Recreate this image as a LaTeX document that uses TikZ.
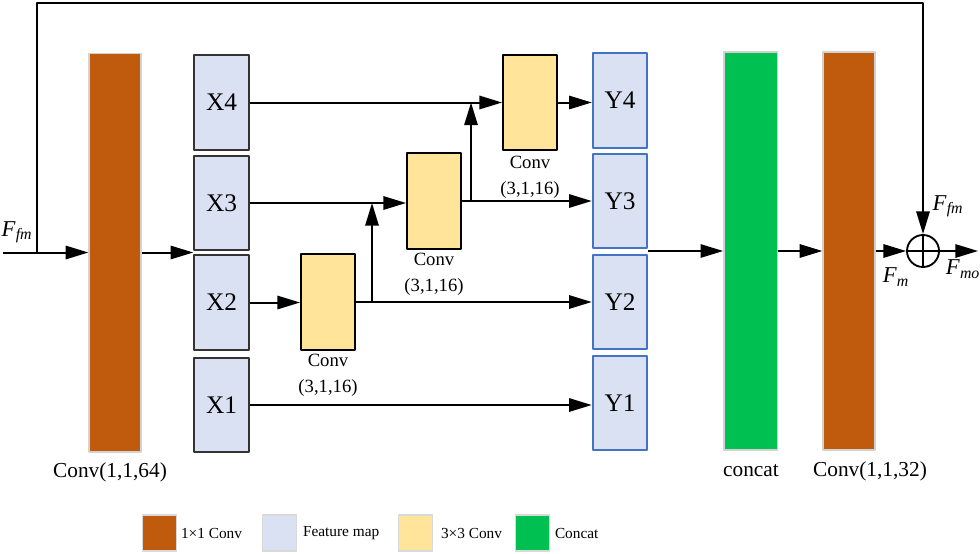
\documentclass[tikz,border=0pt]{standalone}
\usepackage{fontspec}
\setmainfont{Liberation Serif}
\usetikzlibrary{arrows.meta,positioning}
\definecolor{cbrown}{RGB}{192,90,12}
\definecolor{cblue}{RGB}{218,225,242}
\definecolor{cborder}{RGB}{68,114,196}
\definecolor{cyellow}{RGB}{255,228,153}
\definecolor{cgreen}{RGB}{0,192,82}
\tikzset{
  bar/.style={draw=gray!35, line width=1pt, minimum width=39pt, inner sep=0},
  fmap/.style={draw=black!80, fill=cblue, line width=1.4pt, minimum width=41pt, minimum height=71pt, inner sep=0, font=\fontsize{19}{21}\selectfont},
  ymap/.style={fmap, draw=cborder},
  cbox/.style={draw, fill=cyellow, line width=1.4pt, minimum width=40.5pt, minimum height=71.5pt, inner sep=0},
  clab/.style={align=center, inner sep=0, font=\fontsize{14}{19.5}\selectfont},
  blab/.style={inner sep=0, font=\fontsize{16}{18}\selectfont},
  flab/.style={inner sep=0, font=\fontsize{17}{19}\selectfont},
  key/.style={draw=gray!30, line width=0.8pt, minimum width=26pt, minimum height=27pt, inner sep=0},
  keytext/.style={anchor=west, inner sep=0, font=\fontsize{11.5}{13}\selectfont}
}
\begin{document}
\begin{tikzpicture}[x=0.75pt, y=-0.75pt, line join=round, line width=1.5pt, >={Triangle[length=17pt,width=10pt]}]
  \useasboundingbox (0,0) rectangle (980,553);
  % input block
  \node[bar, fill=cbrown, minimum height=299pt] (conv1) at (115,252.5) {};
  \foreach \n/\y in {4/102.5,3/203,2/302.5,1/405}
    \node[fmap] (X\n) at (221.5,\y) {X\n};
  \foreach \n/\y in {4/100.5,3/201,2/302,1/403}
    \node[ymap] (Y\n) at (620,\y) {Y\n};
  % 3x3 convs
  \node[cbox] (cva) at (328,302) {};
  \node[cbox] (cvb) at (434,201) {};
  \node[cbox] (cvc) at (530,102.5) {};
  \node[clab, below=2pt of cva] (cvalab) {Conv\\(3,1,16)};
  \node[clab, below=2pt of cvb] (cvblab) {Conv\\(3,1,16)};
  \node[clab, below=3pt of cvc] (cvclab) {Conv\\(3,1,16)};
  % output block
  \node[bar, fill=cgreen, minimum width=40pt, minimum height=298.5pt] (cat) at (750.5,251) {};
  \node[bar, fill=cbrown, minimum height=298.5pt] (conv2) at (849,251) {};
  \node[circle, draw, line width=1.4pt, minimum size=24pt, inner sep=0] (add) at (923,251) {};
  \draw[line width=1.4pt] (add.north) -- (add.south) (add.west) -- (add.east);
  \node[blab] (conv1lab) at (110,472) {Conv(1,1,64)};
  \node[blab] (catlab) at (751,471) {concat};
  \node[blab] (conv2lab) at (870,471) {Conv(1,1,32)};
  % connections
  \coordinate (in) at (3,252.5);
  \coordinate (split) at (37,252.5);
  \coordinate (top) at (923,3);
  \coordinate (out) at (978,251);
  \draw[->] (in) -- (conv1.west);
  \draw[->] (split) |- (top) -- (add.north);
  \draw[->] (conv1.east) -- (conv1.east -| X3.west);
  \draw[->] (X4.east) -- (X4.east -| cvc.west);
  \draw[->] (X3.east) -- (X3.east -| cvb.west);
  \draw[->] (X2.east) -- (X2.east -| cva.west);
  \draw[->] (X1.east) -- (X1.east -| Y1.west);
  \draw[->] (cva.east) -- (cva.east -| Y2.west);
  \draw[->] (cvb.east) -- (cvb.east -| Y3.west);
  \draw[->] (cvc.east) -- (cvc.east -| Y4.west);
  \coordinate (ja) at (372,302);
  \coordinate (jb) at (471,201);
  \draw[->] (ja) -- (ja |- X3.east);
  \draw[->] (jb) -- (jb |- X4.east);
  \draw[->] (cat.west -| Y3.east) -- (cat.west);
  \draw[->] (cat.east) -- (conv2.west);
  \draw[->] (conv2.east) -- (add.west);
  \draw[->] (add.east) -- (out);
  \node[flab] (ffm) at (17,232) {\textit{F}\textsubscript{\textit{fm}}};
  \node[flab] (ffm2) at (948,206) {\textit{F}\textsubscript{\textit{fm}}};
  \node[flab] (fm) at (896,277) {\textit{F}\textsubscript{\textit{m}}};
  \node[flab] (fmo) at (963,269) {\textit{F}\textsubscript{\textit{mo}}};
  % legend
  \node[key, fill=cbrown] (k1) at (159.5,533) {};
  \node[keytext] (t1) at (180,533) {1×1 Conv};
  \node[key, fill=cblue] (k2) at (279.5,533) {};
  \node[keytext] (t2) at (302,533) {Feature map};
  \node[key, fill=cyellow] (k3) at (415.5,533) {};
  \node[keytext] (t3) at (440,533) {3×3 Conv};
  \node[key, fill=cgreen] (k4) at (532.5,533) {};
  \node[keytext] (t4) at (554,533) {Concat};
\end{tikzpicture}
\end{document}
